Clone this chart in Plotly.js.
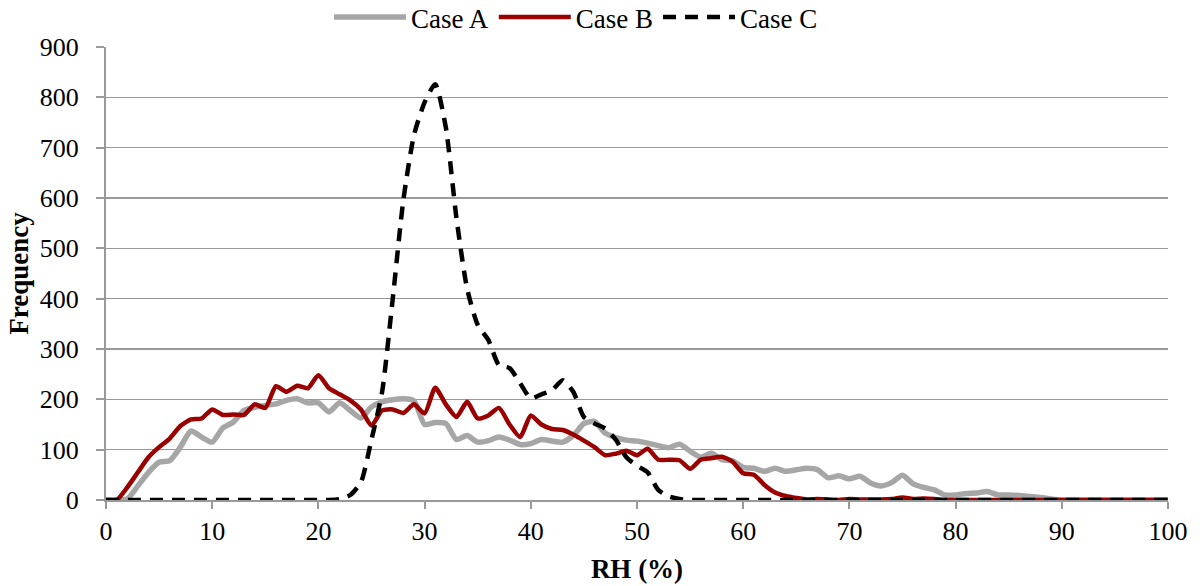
<!DOCTYPE html>
<html>
<head>
<meta charset="utf-8">
<script src="https://cdn.plot.ly/plotly-3.0.1.min.js"></script>
<style>html,body{margin:0;padding:0;background:#fff;}#chart{width:1200px;height:586px;}</style>
</head>
<body>
<div id="chart"></div>
<script>
const rh = [];
for (let i = 0; i <= 100; i++) rh.push(i);

const caseA = [0,0,2,28,55,75,78,105,137,125,
  115,143,155,178,184,188,191,198,201,193,
  193,175,193,178,163,185,195,199,201,197,
  150,154,152,120,128,115,118,125,119,110,
  112,120,117,115,128,152,156,133,124,119,
  117,113,108,104,111,97,85,93,80,78,
  65,63,57,63,57,60,63,60,44,48,
  42,47,34,28,35,49,32,25,20,10,
  10,13,14,17,10,10,9,7,5,2,
  0,0,0,0,0,0,0,0,0,0,0];

const caseB = [0,0,25,55,85,105,122,147,160,162,
  180,169,170,169,190,183,226,215,227,222,
  248,222,210,198,180,148,178,180,173,190,
  172,223,190,165,195,162,168,183,150,125,
  168,150,141,139,130,118,105,89,92,98,
  89,102,80,80,79,62,80,83,86,76,
  53,50,30,15,8,4,1,2,1,0,
  2,1,1,1,2,5,2,3,2,0,
  0,0,0,0,0,0,0,0,0,0,
  0,0,0,0,0,0,0,0,0,0,0];

const caseC = [0,0,0,0,0,0,0,0,0,0,
  0,0,0,0,0,0,0,0,0,0,
  0,0,2,10,35,120,215,400,596,725,
  790,826,740,560,420,348,318,268,262,232,
  202,210,218,238,215,165,152,142,120,85,
  68,55,20,7,2,0,0,0,0,0,
  0,0,0,0,0,0,0,0,0,0,
  0,0,0,0,0,0,0,0,0,0,
  0,0,0,0,0,0,0,0,0,0,
  0,0,0,0,0,0,0,0,0,0,0];

const seriesNames = ['Case A', 'Case B', 'Case C'];
const xTicks = [0,10,20,30,40,50,60,70,80,90,100];
const yTicks = [0,100,200,300,400,500,600,700,800,900];

const font = 'Liberation Serif';

const traces = [
  {x: rh, y: caseA, name: seriesNames[0], mode: 'lines', line: {color: '#a6a6a6', width: 5.5, shape: 'spline', smoothing: 0.6}},
  {x: rh, y: caseB, name: seriesNames[1], mode: 'lines', line: {color: '#9a0000', width: 4.5, shape: 'spline', smoothing: 0.6}},
  {x: rh, y: caseC, name: seriesNames[2], mode: 'lines', line: {color: '#000000', width: 4.5, dash: '13px,9px', shape: 'spline', smoothing: 0.6}}
];

const layout = {
  width: 1200, height: 586,
  margin: {l: 106, r: 32, t: 47, b: 86, autoexpand: false},
  paper_bgcolor: '#fff', plot_bgcolor: '#fff',
  font: {family: font, size: 26, color: '#000'},
  showlegend: true,
  legend: {orientation: 'h', x: 0.4426, xanchor: 'center', y: 1.065, yanchor: 'middle',
    font: {family: font, size: 27}, itemwidth: 72, tracegroupgap: 0, traceorder: 'normal'},
  xaxis: {range: [0, 100], tickvals: xTicks, ticktext: xTicks.map(String),
    showgrid: false, zeroline: false, showline: true, linecolor: '#999', linewidth: 2,
    ticks: 'outside', ticklen: 7, tickcolor: '#999', tickwidth: 2,
    tickfont: {family: font, size: 26},
    title: {text: '<b>RH (%)</b>', font: {family: font, size: 27}, standoff: 14}},
  yaxis: {range: [0, 900], tickvals: yTicks, ticktext: yTicks.map(String),
    showgrid: true, gridcolor: '#999', gridwidth: 1.5, zeroline: false,
    showline: true, linecolor: '#999', linewidth: 2,
    ticks: 'outside', ticklen: 8, tickcolor: '#999', tickwidth: 2, ticklabelstandoff: 12,
    tickfont: {family: font, size: 26},
    title: {text: '<b>Frequency</b>', font: {family: font, size: 27}, standoff: 3}}
};

Plotly.newPlot('chart', traces, layout, {displayModeBar: false, staticPlot: true});
</script>
</body>
</html>
